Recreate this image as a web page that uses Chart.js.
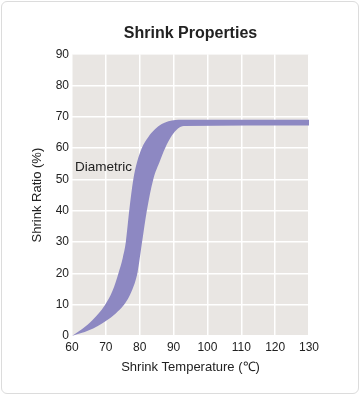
<!DOCTYPE html>
<html>
<head>
<meta charset="utf-8">
<script src="https://cdn.jsdelivr.net/npm/chart.js@4"></script>
<style>
  body { margin: 0; background: #fff; }
  #wrap { position: relative; width: 360px; height: 399px; }
  #frame {
    position: absolute; left: 1px; top: 1px; width: 356px; height: 391px;
    border: 1px solid #dcdcdc; border-radius: 6px;
  }
  #chart { position: absolute; left: 0; top: 0; }
</style>
</head>
<body>
<div id="wrap">
  <div id="frame"></div>
  <canvas id="chart" width="360" height="399"></canvas>
</div>
<script>
// upper edge of the band (left side)
const upperTemp = [60, 63, 66, 69.7, 72, 73.7, 75, 75.9, 76.9, 78.1, 79.2, 80.6, 82.5, 84.5, 86.5, 88.5, 90.5, 92.5, 130];
const upperRatio = [0, 2.2, 5, 9.8, 14.5, 20, 25, 30, 40, 50, 55.5, 60, 63.5, 66, 67.7, 68.6, 69, 69.1, 69.1];

// lower edge of the band (right side)
const lowerTemp = [60, 65, 70, 73, 75, 76.5, 77.8, 78.7, 79.4, 80.7, 82.1, 84, 86, 87.5, 89.5, 91.3, 93, 130];
const lowerRatio = [0, 1.8, 4.8, 7.3, 9.5, 11.8, 14.8, 17.5, 20.5, 30, 40, 50, 56, 60, 64, 66.3, 67.1, 67.2];

const xTicks = [60, 70, 80, 90, 100, 110, 120, 130];
const yTicks = [0, 10, 20, 30, 40, 50, 60, 70, 80, 90];

const bandLabel = "Diametric";
const bandColor = "#8d88c2";

const toPoints = (xs, ys) => xs.map((x, i) => ({ x: x, y: ys[i] }));

const plotBackground = {
  id: "plotBackground",
  beforeDraw(chart) {
    const { ctx, chartArea } = chart;
    ctx.save();
    ctx.fillStyle = "#e9e6e3";
    ctx.fillRect(chartArea.left, chartArea.top, chartArea.right - chartArea.left, chartArea.bottom - chartArea.top);
    ctx.restore();
  },
};

const bandText = {
  id: "bandText",
  afterDatasetsDraw(chart) {
    const { ctx, scales } = chart;
    ctx.save();
    ctx.font = "13.5px 'Liberation Sans', Arial, sans-serif";
    ctx.fillStyle = "#222";
    ctx.textAlign = "left";
    ctx.textBaseline = "middle";
    ctx.fillText(bandLabel, scales.x.getPixelForValue(60.9), scales.y.getPixelForValue(53.8));
    ctx.restore();
  },
};

const fontFamily = "'Liberation Sans', Arial, sans-serif";

new Chart(document.getElementById("chart"), {
  type: "line",
  data: {
    datasets: [
      {
        label: "upper",
        data: toPoints(upperTemp, upperRatio),
        borderWidth: 0,
        pointRadius: 0,
        cubicInterpolationMode: "monotone",
        fill: false,
      },
      {
        label: "lower",
        data: toPoints(lowerTemp, lowerRatio),
        borderWidth: 0,
        pointRadius: 0,
        cubicInterpolationMode: "monotone",
        backgroundColor: bandColor,
        fill: "-1",
      },
    ],
  },
  options: {
    responsive: false,
    animation: false,
    events: [],
    layout: { padding: { left: 30, right: 51, top: 0, bottom: 24 } },
    plugins: {
      legend: { display: false },
      tooltip: { enabled: false },
      title: {
        display: true,
        text: "Shrink Properties",
        fullSize: false,
        color: "#222",
        font: { family: fontFamily, size: 16, weight: "bold" },
        padding: { top: 24, bottom: 11 },
      },
    },
    scales: {
      x: {
        type: "linear",
        min: 60,
        max: 130,
        afterBuildTicks: (scale) => { scale.ticks = xTicks.map((v) => ({ value: v })); },
        grid: { color: "#fff", lineWidth: 1.5, drawTicks: false },
        border: { display: false },
        ticks: { color: "#222", padding: 4, font: { family: fontFamily, size: 12 } },
        title: {
          display: true,
          text: "Shrink Temperature (℃)",
          color: "#222",
          font: { family: fontFamily, size: 13 },
          padding: { top: 1, bottom: 0 },
        },
      },
      y: {
        min: 0,
        max: 90,
        afterBuildTicks: (scale) => { scale.ticks = yTicks.map((v) => ({ value: v })); },
        afterFit: (scale) => { scale.width = 42; },
        grid: { color: "#fff", lineWidth: 1.5, drawTicks: false },
        border: { display: false },
        ticks: { color: "#222", padding: 3, font: { family: fontFamily, size: 12 } },
        title: {
          display: true,
          text: "Shrink Ratio (%)",
          color: "#222",
          font: { family: fontFamily, size: 13 },
          padding: { top: 0, bottom: 0 },
        },
      },
    },
  },
  plugins: [plotBackground, bandText],
});
</script>
</body>
</html>
